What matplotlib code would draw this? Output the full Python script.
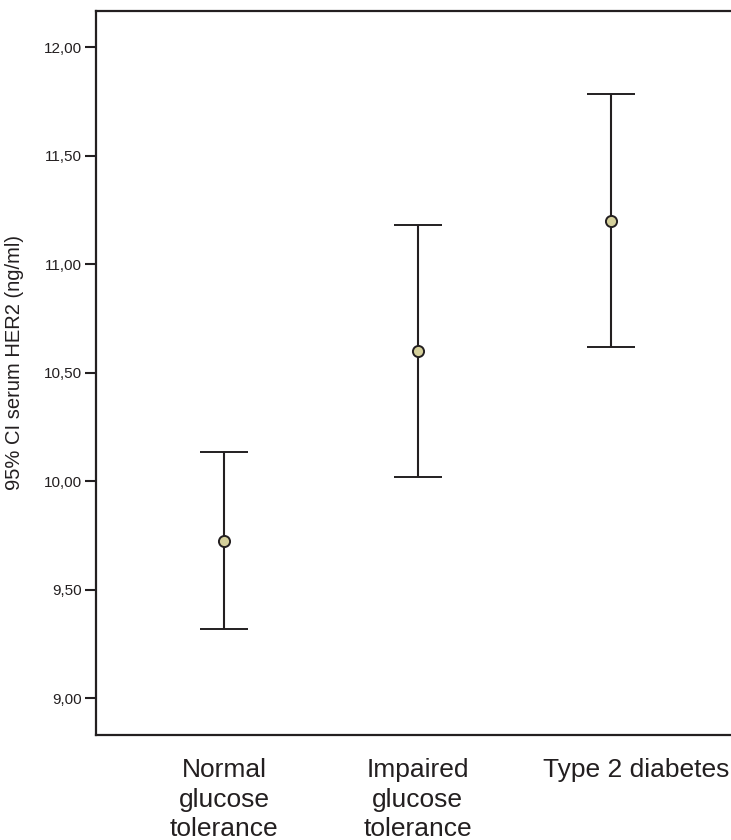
import matplotlib
matplotlib.use("Agg")
import matplotlib.pyplot as plt
import matplotlib.transforms as mtransforms

categories = ["Normal\nglucose\ntolerance", "Impaired\nglucose\ntolerance", "Type 2 diabetes"]
means = [9.726, 10.599, 11.200]
lower = [9.318, 10.019, 10.617]
upper = [10.133, 11.179, 11.785]
yticks = [9.0, 9.5, 10.0, 10.5, 11.0, 11.5, 12.0]
ytick_labels = ["9,00", "9,50", "10,00", "10,50", "11,00", "11,50", "12,00"]
ylabel = "95% CI serum HER2 (ng/ml)"

plt.rcParams['font.family'] = ['Liberation Sans', 'DejaVu Sans']
dark = "#231f20"

W, H = 731, 840
fig = plt.figure(figsize=(W / 100, H / 100), dpi=100)
ax = fig.add_axes([95.5 / W, 1 - 735 / H, (W - 95.5) / W, (735 - 11) / H])

x = [1, 2, 3]
yerr = [[m - l for m, l in zip(means, lower)], [u - m for m, u in zip(means, upper)]]
ax.errorbar(x, means, yerr=yerr, fmt='o', color=dark, ecolor=dark, elinewidth=1.5,
            capsize=17.3, capthick=1.6, markersize=8, markerfacecolor="#d5d09b",
            markeredgecolor=dark, markeredgewidth=1.4)

ax.set_xlim(0.336, 3.62)
ax.set_ylim(8.830, 12.166)
ax.set_yticks(yticks)
ax.set_yticklabels(ytick_labels, fontsize=11, color=dark)
ax.tick_params(axis='y', direction='out', length=8, width=1.5, color=dark, pad=2)
ax.set_xticks(x)
ax.set_xticklabels(categories, fontsize=19, color=dark, va='top', linespacing=1.3)
ax.tick_params(axis='x', length=0, pad=16.5)

# shift last label to the right as in the reference
lbl = ax.get_xticklabels()[2]
lbl.set_transform(lbl.get_transform() + mtransforms.ScaledTranslation(25 / 100, 0, fig.dpi_scale_trans))

for s in ['left', 'top', 'bottom']:
    ax.spines[s].set_linewidth(1.6)
    ax.spines[s].set_color(dark)
ax.spines['right'].set_visible(False)

ax.set_ylabel(ylabel, fontsize=14.5, color=dark)
ax.yaxis.set_label_coords(-(95.5 - 24) / (W - 95.5), (735 - 362) / (735 - 11))

fig.savefig("out.png", dpi=100)
